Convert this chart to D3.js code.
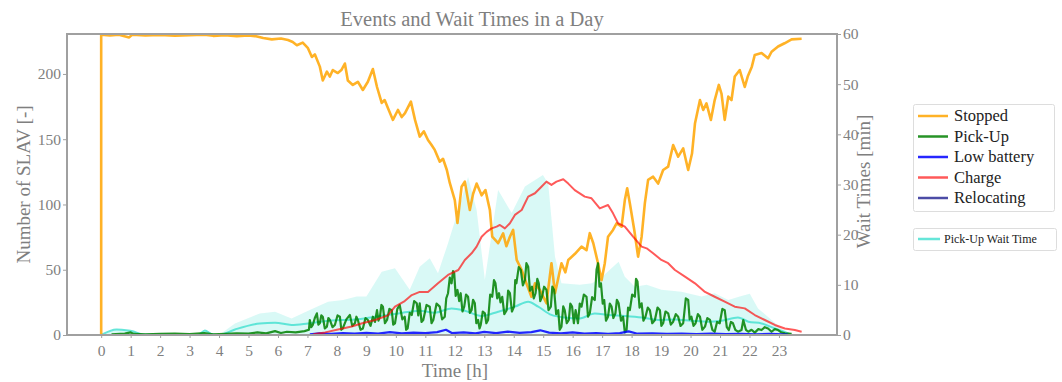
<!DOCTYPE html>
<html>
<head>
<meta charset="utf-8">
<script src="https://cdn.jsdelivr.net/npm/d3@7"></script>
<style>
  body { margin: 0; background: #fff; }
  text { font-family: "Liberation Serif", "DejaVu Serif", serif; }
</style>
</head>
<body>
<svg id="chart" width="1062" height="382"></svg>
<script>
// values: [hour, value]
const hourTicks = [0,1,2,3,4,5,6,7,8,9,10,11,12,13,14,15,16,17,18,19,20,21,22,23];
const countTicks = [0, 50, 100, 150, 200];
const minuteTicks = [0, 10, 20, 30, 40, 50, 60];

const stopped = [[0,0],[0,230],[0.3,229.5],[0.6,230],[0.95,228],[1.05,230],[1.5,229.5],[2,229.8],[2.5,229.3],[3,229.6],[3.5,230],[3.8,229.2],[4.2,229.7],[4.6,229],[5,229.4],[5.22,229],
  [5.5,227.5],[5.79,226.5],[6.1,227.2],[6.34,226],[6.5,224.5],[6.64,222],[6.84,224],[7.01,220],[7.15,213],[7.25,215],[7.42,205.6],[7.52,195],[7.66,201.8],[7.76,198],[7.86,203],
  [8.03,200.7],[8.15,203],[8.27,208],[8.37,195],[8.54,191.6],[8.71,194],[8.88,187.7],[9.05,194],[9.22,203.8],[9.36,190],[9.52,177.8],[9.62,180],[9.73,174],[9.9,164.8],
  [10.07,172.4],[10.2,167],[10.31,170],[10.51,178.8],[10.65,164.8],[10.81,152],[10.95,156],[11.09,149.4],[11.2,146],[11.32,141.8],[11.49,132.8],[11.6,135],[11.73,126.4],[11.83,116.5],
  [12.0,103.4],[12.09,85.8],[12.23,113.6],[12.34,117.5],[12.51,95.8],[12.62,108],[12.74,116],[12.91,107],[13.04,111],[13.19,95.8],[13.27,75.3],[13.47,70.3],[13.64,77.9],
  [13.75,68],[13.87,75.3],[13.98,80.5],[14.1,57.5],[14.27,49.8],[14.43,39.6],[14.6,29.3],[14.72,39.6],[14.89,34.5],[15.11,24.3],[15.28,55],[15.4,32],[15.62,55],[15.75,48],
  [15.85,57.5],[16.07,62],[16.3,67.7],[16.47,65],[16.58,78],[16.7,70.3],[16.86,55],[16.98,42],[17.09,55],[17.2,75.3],[17.37,80.5],[17.49,85.6],[17.66,83],[17.77,103.4],
  [17.85,112.4],[17.94,101],[18.09,80.5],[18.22,60],[18.34,75.3],[18.45,101],[18.56,118.8],[18.73,121.3],[18.9,116],[19.07,126.4],[19.24,129],[19.41,145.6],[19.58,136.6],
  [19.75,143],[19.92,126.4],[20.05,139],[20.15,162],[20.32,180],[20.43,172.4],[20.54,177.5],[20.69,164.8],[20.82,180],[20.96,191.6],[21.05,185],[21.16,164.8],[21.28,182.6],
  [21.39,180],[21.5,198],[21.67,203],[21.84,190],[21.94,198],[22.08,205.6],[22.18,214.6],[22.41,216],[22.63,212],[22.75,217],[22.97,221],[23.19,223.5],[23.43,226.5],[23.77,227]];

const pickUp = [[0.35,0.5],[0.8,1],[1.0,2],[1.1,0.8],[1.5,0.5],[2,0.8],[2.5,1],[3,0.7],[3.5,1.5],[3.8,0.5],[4.2,0.8],[4.6,1.2],[5,1],[5.3,2],[5.6,1.2],[5.9,3],[6.1,1.5],
  [6.3,2.5],[6.6,2],[6.9,3],[7.05,4],[7.08,11.5],[7.13,6],[7.18,7.7],[7.25,13],[7.32,16.6],[7.37,8],[7.42,9],[7.47,15],[7.52,14],[7.59,5],[7.66,6.4],[7.71,13],[7.76,11.5],
  [7.85,6],[7.93,7.7],[8.02,15],[8.1,14],[8.15,4],[8.2,5],[8.32,12],[8.44,15.3],[8.52,7],[8.61,9],[8.66,14],[8.71,11.5],[8.8,4],[8.88,5],[8.97,13],[9.05,11.5],[9.14,7],
  [9.22,14],[9.29,10],[9.36,19],[9.41,11],[9.46,14],[9.51,23],[9.56,21.7],[9.63,9],[9.7,11.5],[9.78,20],[9.86,19],[9.91,8],[9.97,9],[10.05,20],[10.13,23],[10.22,12],[10.3,14],
  [10.35,4],[10.4,5],[10.47,17],[10.54,15.3],[10.62,26],[10.71,24.3],[10.76,15],[10.81,24.3],[10.87,10],[10.93,11.5],[11.04,23],[11.15,21.7],[11.21,9],[11.27,11.5],
  [11.38,24],[11.49,21.7],[11.57,12],[11.66,14],[11.71,28],[11.77,32],[11.83,44],[11.89,39.6],[11.94,49],[11.98,47.3],[12.03,30],[12.09,34.5],[12.15,26],[12.2,32],
  [12.26,18],[12.32,21.7],[12.38,31],[12.45,29.3],[12.51,17],[12.57,19],[12.62,27],[12.68,24.3],[12.73,9],[12.79,11.5],[12.84,5],[12.88,7.7],[12.95,18],[13.02,16.6],
  [13.07,9],[13.13,11.5],[13.2,31],[13.27,29.3],[13.33,42],[13.38,39.6],[13.44,28],[13.5,32],[13.55,25],[13.61,29.3],[13.68,16],[13.76,19],[13.81,34],[13.87,32],
  [13.94,18],[14.01,21.7],[14.05,42],[14.09,39.6],[14.17,52],[14.24,49.8],[14.31,38],[14.38,42],[14.43,55],[14.49,52.3],[14.55,34],[14.62,37],[14.68,28],[14.74,32],
  [14.8,43],[14.85,39.6],[14.9,26],[14.96,29.3],[15.03,37],[15.11,34.5],[15.18,19],[15.26,21.7],[15.31,37],[15.37,34.5],[15.44,16],[15.51,19],[15.56,4],[15.62,6.4],
  [15.68,22],[15.73,19],[15.8,9],[15.87,11.5],[15.92,24],[15.98,21.7],[16.04,9],[16.1,19],[16.18,9],[16.24,24],[16.3,21.7],[16.38,31],[16.47,29.3],[16.52,14],[16.58,16.6],
  [16.66,29],[16.75,26.8],[16.81,50],[16.86,55],[16.91,37],[16.96,39.6],[17.02,24],[17.07,26.8],[17.13,11],[17.2,14],[17.26,24],[17.32,21.7],[17.38,13],[17.45,16.6],
  [17.5,27],[17.56,24.3],[17.64,11],[17.71,14],[17.77,2],[17.83,3.8],[17.88,21],[17.94,19],[18.02,31],[18.11,29.3],[18.15,43],[18.2,40.9],[18.27,21],[18.34,24.3],
  [18.4,11],[18.47,14],[18.55,21],[18.62,19],[18.7,9],[18.79,11.5],[18.88,21],[18.96,19],[19.01,7],[19.07,9],[19.15,18],[19.24,16.6],[19.33,8],[19.41,10.2],[19.5,16],
  [19.58,14],[19.66,7],[19.75,9],[19.84,28],[19.92,26.8],[19.97,12],[20.03,14],[20.1,7],[20.17,9],[20.25,16],[20.32,14],[20.4,4],[20.49,6.4],[20.57,13],[20.66,11.5],
  [20.74,4],[20.82,2.5],[20.9,10],[20.99,9],[21.08,20],[21.16,19],[21.23,6],[21.3,3.8],[21.37,10],[21.44,9],[21.52,4],[21.61,2.5],[21.73,3.8],[21.79,11.5],[21.88,4],[21.96,2.5],
  [22.07,4],[22.18,1.8],[22.3,4.5],[22.41,3.8],[22.52,6],[22.63,5],[22.75,2.5],[22.86,4.5],[22.97,3.8],[23.08,2],[23.2,1.3],[23.43,0.8]];

const lowBattery = [[7.08,0.5],[7.4,1.2],[7.8,0.8],[8.2,1.5],[8.6,1],[9.0,1.6],[9.4,1],[9.8,2.2],[10.2,1.2],[10.6,1.8],[11.0,1.4],[11.4,2.2],[11.7,4],[11.9,1.5],[12.3,2],
  [12.7,1.3],[13.0,2.4],[13.4,1.5],[13.8,2.6],[14.2,1.6],[14.6,2.2],[14.9,3.6],[15.2,1.8],[15.6,1.2],[16.0,2],[16.4,1.1],[16.8,1.5],[17.2,0.9],[17.6,1.4],[17.9,2.8],
  [18.2,1],[18.7,1.2],[19.2,0.8],[19.7,1.1],[20.2,0.7],[20.7,1],[21.2,0.6],[21.7,0.9],[22.2,0.5],[22.7,0.8],[23.3,0.3]];

const charge = [[7.2,0.5],[7.6,2],[8.0,4],[8.5,6.5],[8.86,9],[9.3,11.5],[9.73,15],[9.97,21.7],[10.3,26],[10.54,30.6],[10.81,33],[11.09,33],[11.43,39.6],[11.77,46],
  [12.12,49.8],[12.34,57.5],[12.57,62.6],[12.74,67.7],[12.91,75.3],[13.08,79],[13.25,81.7],[13.42,83],[13.53,84.3],[13.7,81.7],[13.87,85.6],[14.04,92],[14.27,95.8],[14.49,106],
  [14.72,108.6],[14.94,113.6],[15.11,117.5],[15.28,115],[15.45,117.5],[15.68,119.3],[15.85,116],[16.07,111],[16.41,106],[16.64,104.7],[16.92,97],[17.2,99.6],[17.37,93.2],
  [17.54,85.6],[17.77,83],[18.05,75.3],[18.34,67.7],[18.51,66.4],[18.73,62.6],[19.01,57.5],[19.24,55],[19.47,49.8],[19.81,44.7],[20.15,39.6],[20.49,33],[20.82,29.3],
  [21.16,25.5],[21.5,21.7],[21.84,20.4],[22.18,15.3],[22.52,11.5],[22.86,7.7],[23.2,5],[23.54,3.8],[23.77,2.5]];

const relocating = [[0.35,0],[6,0],[12,0],[18,0],[23.5,0]];

const waitTime = [[0,0],[0.52,1.1],[0.92,0.9],[1.03,0.8],[1.43,0.1],[3.29,0],[3.52,0.9],[3.74,0.2],[4.0,0],[4.54,1.1],[5.38,2.3],[5.9,2.45],[6.46,2.0],[7.02,2.3],
  [7.82,2.9],[8.61,3.1],[9.29,3.65],[10.08,4.3],[10.81,4.85],[11.32,4.45],[11.89,5.3],[12.34,4.85],[12.91,3.8],[13.47,4.65],[14.04,5.65],[14.49,6.65],[14.83,5.65],[15.28,4.0],
  [15.73,3.5],[16.24,3.3],[16.75,4.3],[17.2,4.0],[17.77,3.8],[18.34,3.5],[18.9,3.0],[19.47,3.1],[20.03,2.85],[20.6,2.65],[21.05,2.85],[21.61,3.5],[21.73,3.3],[21.96,2.65],
  [22.41,2.3],[22.86,1.3],[23.31,0.33],[23.43,0]];

const waitUpper = [[0,0],[0.52,1.1],[0.92,0.9],[1.43,0.1],[3.29,0],[3.52,0.9],[3.74,0.2],[4.0,0],[4.54,2.3],[5.38,4.3],[5.9,4.65],[6.46,3.3],[7.08,5.0],[7.7,6.65],
  [8.21,7.0],[8.67,7.65],[9.0,7.65],[9.52,12.6],[9.97,13.3],[10.47,9],[10.81,13.6],[11.15,15.3],[11.43,12.3],[11.77,18.3],[12.12,24.9],[12.45,31.5],[12.74,24.9],[13.02,11],
  [13.47,28.9],[13.93,24.3],[14.38,29.6],[14.99,31.9],[15.17,30.2],[15.4,15.6],[15.62,10.3],[16.24,10],[16.66,10.3],[17.0,11.6],[17.56,14.6],[17.77,11.6],[18.11,9.6],
  [18.51,10],[19.01,9.0],[19.69,8.6],[20.37,7.65],[20.82,8.3],[21.28,7.0],[21.67,7.65],[22.01,8.2],[22.29,5.3],[22.75,3.0],[23.09,1.3],[23.43,0]];

const svg = d3.select('#chart');
const plotLeft = 67, plotRight = 837, plotTop = 34, plotBottom = 335;
const grey = '#7f7f7f';

const x = d3.scaleLinear().domain([-1.16, 24.97]).range([plotLeft, plotRight]);
const yL = d3.scaleLinear().domain([0, 230.6]).range([plotBottom, plotTop]);
const yR = d3.scaleLinear().domain([0, 60]).range([plotBottom, plotTop]);

svg.append('defs').append('clipPath').attr('id', 'plotClip')
  .append('rect').attr('x', plotLeft).attr('y', plotTop)
  .attr('width', plotRight - plotLeft).attr('height', plotBottom - plotTop);

const plot = svg.append('g').attr('clip-path', 'url(#plotClip)');

plot.append('path')
  .datum(waitUpper)
  .attr('d', d3.area().x(d => x(d[0])).y0(yR(0)).y1(d => yR(d[1])))
  .attr('fill', '#40e0d0').attr('fill-opacity', 0.2);

const lineL = d3.line().x(d => x(d[0])).y(d => yL(d[1]));
const lineR = d3.line().x(d => x(d[0])).y(d => yR(d[1])).curve(d3.curveMonotoneX);

plot.append('path').datum(waitTime).attr('d', lineR)
  .attr('fill', 'none').attr('stroke', '#40e0d0').attr('stroke-opacity', 0.8).attr('stroke-width', 2);

const series = [
  { name: 'Stopped', data: stopped, color: '#ffa500', opacity: 0.85, width: 2.6 },
  { name: 'Pick-Up', data: pickUp, color: '#008000', opacity: 0.85, width: 2.2 },
  { name: 'Low battery', data: lowBattery, color: '#0000ff', opacity: 0.85, width: 2.2 },
  { name: 'Charge', data: charge, color: '#ff0000', opacity: 0.65, width: 2 },
  { name: 'Relocating', data: relocating, color: '#000080', opacity: 0.7, width: 2 }
];

series.forEach(s => {
  plot.append('path').datum(s.data).attr('d', lineL)
    .attr('fill', 'none').attr('stroke', s.color).attr('stroke-opacity', s.opacity)
    .attr('stroke-width', s.width).attr('stroke-linejoin', 'round');
});

// frame
svg.append('rect').attr('x', plotLeft).attr('y', plotTop)
  .attr('width', plotRight - plotLeft).attr('height', plotBottom - plotTop)
  .attr('fill', 'none').attr('stroke', '#a0a0a0').attr('stroke-width', 2);

function styleAxis(g) {
  g.select('.domain').remove();
  g.selectAll('line').attr('stroke', '#a0a0a0');
  g.selectAll('text').attr('fill', grey).style('font-size', '15.5px')
    .style('font-family', '"Liberation Serif", serif');
}

svg.append('g').attr('transform', `translate(${plotLeft},0)`)
  .call(d3.axisLeft(yL).tickValues(countTicks).tickSize(4).tickPadding(2))
  .call(styleAxis);

svg.append('g').attr('transform', `translate(${plotRight},0)`)
  .call(d3.axisRight(yR).tickValues(minuteTicks).tickSize(4).tickPadding(2))
  .call(styleAxis);

svg.append('g').attr('transform', `translate(0,${plotBottom})`)
  .call(d3.axisBottom(x).tickValues(hourTicks).tickSize(3).tickPadding(7))
  .call(styleAxis);

// titles
svg.append('text').attr('x', 472).attr('y', 26).attr('text-anchor', 'middle')
  .attr('fill', grey).style('font-size', '20.5px').text('Events and Wait Times in a Day');

svg.append('text').attr('transform', `translate(30,${(plotTop + plotBottom) / 2}) rotate(-90)`)
  .attr('text-anchor', 'middle').attr('fill', grey).style('font-size', '19px').text('Number of SLAV [-]');

svg.append('text').attr('transform', `translate(870,${(plotTop + plotBottom) / 2 - 3}) rotate(-90)`)
  .attr('text-anchor', 'middle').attr('fill', grey).style('font-size', '19px').text('Wait Times [min]');

svg.append('text').attr('x', (plotLeft + plotRight) / 2 + 3).attr('y', 377).attr('text-anchor', 'middle')
  .attr('fill', grey).style('font-size', '19px').text('Time [h]');

// legend
const lg = svg.append('g');
lg.append('rect').attr('x', 913.5).attr('y', 104.5).attr('width', 141).attr('height', 107).attr('rx', 2)
  .attr('fill', '#fff').attr('stroke', '#dddddd');
series.forEach((s, i) => {
  const yy = 116 + i * 20.5;
  lg.append('line').attr('x1', 918).attr('x2', 948).attr('y1', yy).attr('y2', yy)
    .attr('stroke', s.color).attr('stroke-opacity', s.opacity).attr('stroke-width', 2.5);
  lg.append('text').attr('x', 954).attr('y', yy).attr('dy', '0.33em')
    .attr('fill', '#222').style('font-size', '16.5px').text(s.name);
});

lg.append('rect').attr('x', 913.5).attr('y', 228.5).attr('width', 143).attr('height', 22).attr('rx', 2)
  .attr('fill', '#fff').attr('stroke', '#dddddd');
lg.append('line').attr('x1', 918).attr('x2', 940).attr('y1', 239).attr('y2', 239)
  .attr('stroke', '#40e0d0').attr('stroke-opacity', 0.8).attr('stroke-width', 2.5);
lg.append('text').attr('x', 944).attr('y', 239).attr('dy', '0.33em')
  .attr('fill', '#222').style('font-size', '12px').text('Pick-Up Wait Time');
</script>
</body>
</html>
